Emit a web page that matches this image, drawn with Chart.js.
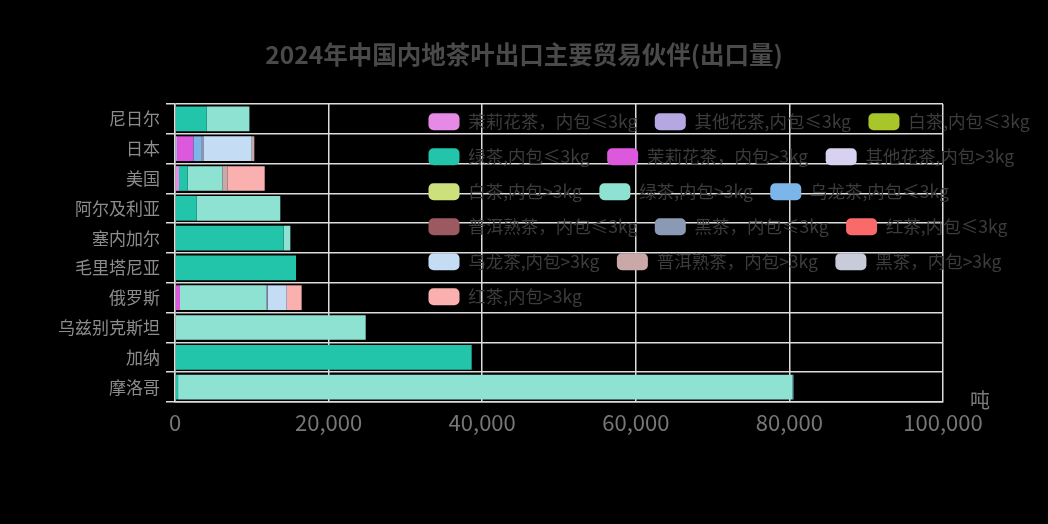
<!DOCTYPE html>
<html>
<head>
<meta charset="utf-8">
<script src="https://cdn.jsdelivr.net/npm/chart.js@4.4.1/dist/chart.umd.min.js"></script>
<style>
html, body { margin: 0; padding: 0; background: #000; }
#wrap { width: 1048px; height: 524px; }
</style>
</head>
<body>
<div id="wrap"><canvas id="myChart"></canvas></div>
<script>
// partners, top to bottom
var countries = ['尼日尔', '日本', '美国', '阿尔及利亚', '塞内加尔', '毛里塔尼亚', '俄罗斯', '乌兹别克斯坦', '加纳', '摩洛哥'];
var xTicks = [0, 20000, 40000, 60000, 80000, 100000];
var unit = '吨';

// export volume (t) per tea type, same order as countries
var jasmineSmall = [0, 0, 520, 0, 0, 0, 0, 0, 0, 0];
var flowerSmall  = [0, 260, 0, 0, 0, 0, 0, 0, 0, 0];
var whiteSmall   = [0, 0, 0, 0, 0, 0, 0, 0, 0, 0];
var greenSmall   = [4130, 0, 1130, 2820, 14150, 15760, 0, 0, 38630, 400];
var jasmineBig   = [0, 2130, 0, 0, 0, 0, 650, 0, 0, 0];
var flowerBig    = [0, 0, 0, 0, 0, 0, 0, 0, 0, 0];
var whiteBig     = [0, 0, 0, 0, 0, 0, 0, 0, 0, 0];
var greenBig     = [5560, 0, 4520, 10890, 870, 0, 11200, 24830, 0, 80000];
var oolongSmall  = [0, 1000, 0, 0, 0, 0, 0, 0, 0, 130];
var puerSmall    = [0, 0, 0, 0, 0, 0, 0, 0, 0, 0];
var darkSmall    = [0, 300, 0, 0, 0, 0, 220, 0, 0, 0];
var blackSmall   = [0, 0, 0, 0, 0, 0, 0, 0, 0, 0];
var oolongBig    = [0, 6290, 0, 0, 0, 0, 2470, 0, 0, 0];
var puerBig      = [0, 350, 650, 0, 0, 0, 0, 0, 0, 0];
var darkBig      = [0, 0, 0, 0, 0, 0, 0, 0, 0, 0];
var blackBig     = [0, 0, 4860, 0, 0, 0, 1950, 0, 0, 0];

var names = [
	'茉莉花茶，内包≤3kg', '其他花茶,内包≤3kg', '白茶,内包≤3kg', '绿茶,内包≤3kg',
	'茉莉花茶，内包>3kg', '其他花茶,内包>3kg', '白茶,内包>3kg', '绿茶,内包>3kg',
	'乌龙茶,内包≤3kg', '普洱熟茶，内包≤3kg', '黑茶，内包≤3kg', '红茶,内包≤3kg',
	'乌龙茶,内包>3kg', '普洱熟茶，内包>3kg', '黑茶，内包>3kg', '红茶,内包>3kg'
];
var series = [
	jasmineSmall, flowerSmall, whiteSmall, greenSmall,
	jasmineBig, flowerBig, whiteBig, greenBig,
	oolongSmall, puerSmall, darkSmall, blackSmall,
	oolongBig, puerBig, darkBig, blackBig
];
var colors = [
	'#e68ae6', '#b5a8e2', '#a8c62a', '#22c4aa',
	'#dc58dc', '#d8d2f0', '#cce07c', '#8ee2d2',
	'#7cb5ea', '#9c5a60', '#8a9ab4', '#fa6a6a',
	'#c4dcf4', '#caa8a8', '#c8ccda', '#fbb0b0'
];

var font = '"Noto Sans CJK SC", "Noto Sans", sans-serif';
var gridColor = '#dcdcdc';

var datasets = [];
for (var i = 0; i < series.length; i++) {
	datasets.push({
		label: names[i],
		data: series[i],
		backgroundColor: colors[i],
		borderWidth: 0,
		categoryPercentage: 1,
		barPercentage: 0.83
	});
}

// let the legend float over the plot instead of taking a row on top,
// and centre the title on the whole canvas
var legendSpot = {
	id: 'legendSpot',
	beforeLayout: function(chart) {
		var lg = chart.legend;
		if (!lg || lg.spotted) return;
		lg.spotted = true;
		var fit = lg.fit;
		lg.fit = function() {
			fit.call(this);
			if (!this.placing) this.height = 0;
		};
	},
	afterLayout: function(chart) {
		var lg = chart.legend;
		lg.placing = true;
		lg.update(680, 320, {left: 0, top: 0, right: 0, bottom: 0});
		lg.placing = false;
		lg.left = 411;
		lg.top = 95.5;
		lg.right = lg.left + lg.width;
		lg.bottom = lg.top + lg.height;

		var t = chart.titleBlock;
		if (t) {
			t.left = 0;
			t.right = chart.width;
			t.width = chart.width;
		}
	}
};

// unit name at the end of the x axis
var unitLabel = {
	id: 'unitLabel',
	afterDraw: function(chart) {
		var x = chart.scales.x;
		var c = chart.ctx;
		c.save();
		c.fillStyle = '#7a7a7a';
		c.font = '20px ' + font;
		c.textAlign = 'center';
		c.textBaseline = 'middle';
		c.fillText(unit, x.right + 37, x.top - 2);
		c.restore();
	}
};

var ctx = document.getElementById('myChart');
var myChart = new Chart(ctx, {
	type: 'bar',
	data: { labels: countries, datasets: datasets },
	options: {
		indexAxis: 'y',
		responsive: true,
		maintainAspectRatio: false,
		animation: false,
		layout: { padding: { left: 0, right: 105, top: 0, bottom: 0 } },
		scales: {
			x: {
				stacked: true,
				min: xTicks[0],
				max: xTicks[xTicks.length - 1],
				afterFit: function(s) { s.height = 122; },
				afterBuildTicks: function(s) {
					s.ticks = xTicks.map(function(v) { return { value: v }; });
				},
				grid: { color: gridColor, lineWidth: 1.5, drawTicks: false },
				border: { color: gridColor, width: 1.5 },
				ticks: {
					color: '#777',
					padding: 7,
					font: { size: 22, family: font },
					callback: function(v) { return Number(v).toLocaleString('en-US'); }
				}
			},
			y: {
				stacked: true,
				afterFit: function(s) { s.width = 175; },
				grid: { color: gridColor, lineWidth: 1.5, tickLength: 9 },
				border: { color: gridColor, width: 1.5 },
				ticks: {
					color: '#8c8c8c',
					padding: 6,
					font: { size: 17, family: font }
				}
			}
		},
		plugins: {
			title: {
				display: true,
				text: '2024年中国内地茶叶出口主要贸易伙伴(出口量)',
				color: '#4a4a4a',
				font: { size: 24.5, weight: 'bold', family: font },
				padding: { top: 39.6, bottom: 35 }
			},
			legend: {
				position: 'top',
				align: 'start',
				labels: {
					color: '#3c3c3c',
					font: { size: 17.5, family: font },
					boxWidth: 31,
					boxHeight: 17,
					padding: 17.5,
					useBorderRadius: true,
					borderRadius: 5
				}
			},
			tooltip: { enabled: false }
		}
	},
	plugins: [legendSpot, unitLabel]
});
</script>
</body>
</html>
